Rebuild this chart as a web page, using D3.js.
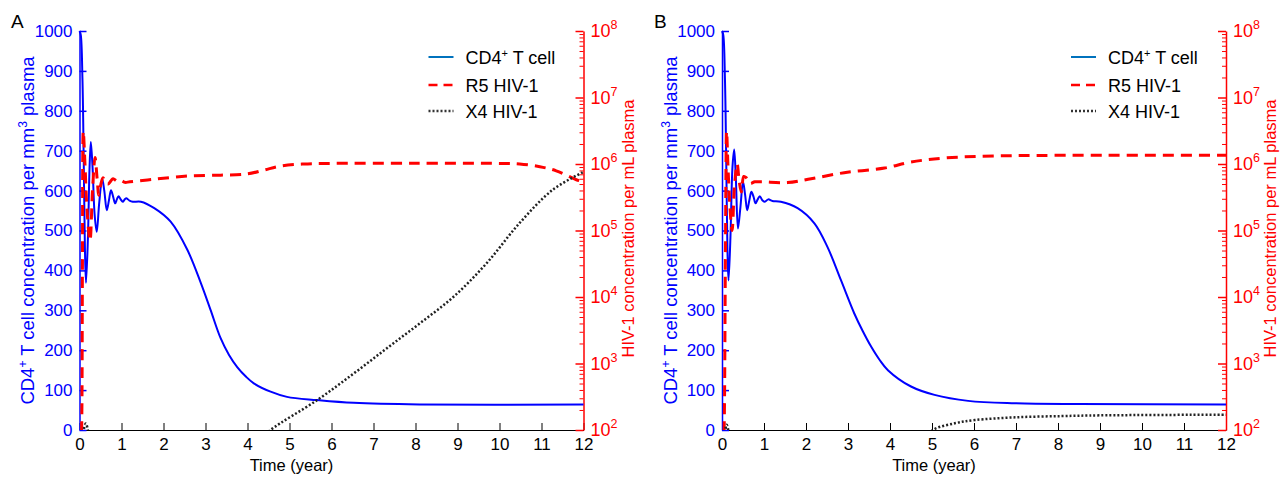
<!DOCTYPE html>
<html>
<head>
<meta charset="utf-8">
<script src="https://cdn.jsdelivr.net/npm/d3@7"></script>
<style>
  body { margin: 0; background: #fff; }
  svg text { font-family: "Liberation Sans", Arial, sans-serif; }
</style>
</head>
<body>
<svg id="chart" width="1284" height="480"></svg>
<script>
// Tick values / labels
const xTicks = [0, 1, 2, 3, 4, 5, 6, 7, 8, 9, 10, 11, 12];
const leftTicks = [0, 100, 200, 300, 400, 500, 600, 700, 800, 900, 1000];
const rightExponents = [2, 3, 4, 5, 6, 7, 8];
const legendLabels = ["CD4", "R5 HIV-1", "X4 HIV-1"];

// Panel A series: [time (year), value]
const cd4A = [[0,1000],[0.03,990],[0.07,880],[0.1,680],[0.13,450],[0.155,369],[0.2,480],[0.24,660],[0.27,722],
  [0.31,660],[0.36,540],[0.41,497],[0.47,570],[0.54,630],[0.59,600],[0.65,551],[0.7,575],[0.75,601],[0.8,585],
  [0.85,568],[0.89,578],[0.93,586],[0.98,578],[1.03,572],[1.07,577],[1.11,581],[1.19,575],[1.27,572],[1.46,572],
  [1.78,556],[2.17,522],[2.57,451],[2.89,368],[3.12,301],[3.36,230],[3.56,188],[3.76,157],[3.96,134],[4.15,117],
  [4.55,96],[4.94,83],[5.66,75],[6.53,68],[8.1,64],[12,64]];
const r5A = [[0.03,50],[0.05,100],[0.07,3e4],[0.09,3.1e6],[0.13,1.0e6],[0.18,2e5],[0.25,7e4],[0.31,4e5],[0.37,1.25e6],
  [0.42,6e5],[0.46,3.4e5],[0.51,5e5],[0.56,6.2e5],[0.62,5.2e5],[0.68,5.0e5],[0.75,5.6e5],[0.8,6.0e5],[0.9,5.5e5],
  [1.0,5.6e5],[1.08,5.3e5],[1.2,5.4e5],[1.78,5.9e5],[2.57,6.6e5],[3.36,6.8e5],[4.0,7.1e5],[4.39,8.1e5],[4.78,9.3e5],
  [5.34,1.0e6],[6,1.02e6],[8,1.03e6],[10,1.02e6],[10.48,1.0e6],[10.96,9.1e5],[11.35,7.9e5],[11.83,5.8e5],[12,5.4e5]];
const x4A = [[0.05,60],[0.1,100],[0.15,125],[0.2,100],[0.24,60], null,
  [4.3,70],[4.55,100],[5.66,282],[6.53,708],[7.32,1.7e3],[8.1,4e3],[8.9,1e4],[9.69,3.2e4],[10.48,1.3e5],
  [11.27,4.1e5],[12,7.6e5]];

// Panel B series
const cd4B = [[0,1000],[0.03,990],[0.07,880],[0.1,680],[0.13,450],[0.155,375],[0.2,480],[0.25,660],[0.29,703],
  [0.33,630],[0.38,505],[0.44,560],[0.5,622],[0.55,590],[0.6,551],[0.65,575],[0.7,597],[0.75,585],[0.8,568],
  [0.85,578],[0.9,586],[0.96,576],[1.02,572],[1.1,578],[1.2,574],[1.4,572],[1.8,556],[2.2,518],[2.51,459],
  [2.83,376],[3.15,292],[3.35,248],[3.55,209],[3.75,176],[3.95,150],[4.5,109],[5.06,88],[5.86,73],[6.98,67],
  [8.5,65],[12,64]];
const r5B = [[0.03,50],[0.05,100],[0.08,3e4],[0.11,3.1e6],[0.14,1.0e6],[0.19,2.2e5],[0.24,1e5],[0.3,5e5],[0.36,1.0e6],
  [0.41,5.5e5],[0.46,3.8e5],[0.52,6.5e5],[0.58,6.2e5],[0.67,5.1e5],[0.78,5.4e5],[0.9,5.4e5],[1.0,5.4e5],[1.56,5.25e5],
  [2.12,6.0e5],[2.91,7.4e5],[3.87,8.7e5],[4.5,1.07e6],[5.3,1.23e6],[6.5,1.32e6],[8,1.35e6],[12,1.35e6]];
const x4B = [[0.05,60],[0.08,100],[0.11,120],[0.15,100],[0.19,60], null,
  [4.8,70],[5.02,100],[5.54,126],[6.02,141],[6.98,155],[8.1,162],[9,166],[12,170]];

const svg = d3.select("#chart");
const plotTop = 31, plotBottom = 430, plotW = 504;
const blue = "#0000ff", red = "#ff0000";

function drawPanel(p) {
  const g = svg.append("g").attr("transform", `translate(${p.left},0)`);
  const x = d3.scaleLinear().domain([0, 12]).range([0, plotW]);
  const yL = d3.scaleLinear().domain([0, 1000]).range([plotBottom, plotTop]);
  const yR = d3.scaleLog().domain([1e2, 1e8]).range([plotBottom, plotTop]);

  const clipId = "clip" + p.name;
  g.append("clipPath").attr("id", clipId).append("rect")
    .attr("x", -3).attr("y", plotTop - 6).attr("width", plotW + 6).attr("height", plotBottom - plotTop + 6);

  // x axis (ticks pointing inward)
  const xAx = g.append("g").attr("transform", `translate(0,${plotBottom})`)
    .call(d3.axisBottom(x).tickValues(xTicks).tickSizeInner(-7).tickSizeOuter(0).tickPadding(8));
  xAx.attr("font-size", 17).attr("font-family", null);
  xAx.selectAll("line,path").attr("stroke", "#000");
  xAx.selectAll("text").attr("fill", "#000");

  g.append("text").attr("x", 212).attr("y", 471).attr("text-anchor", "middle")
    .attr("font-size", 16.5).text("Time (year)");

  // left axis
  const lAx = g.append("g")
    .call(d3.axisLeft(yL).tickValues(leftTicks).tickFormat(d3.format("d"))
      .tickSizeInner(-7).tickSizeOuter(0).tickPadding(7));
  lAx.attr("font-size", 17).attr("font-family", null);
  lAx.selectAll("line,path").attr("stroke", blue).attr("stroke-width", 1.5);
  lAx.selectAll("text").attr("fill", blue);

  const lt = g.append("text").attr("transform", `translate(-45.5,${(plotTop + plotBottom) / 2}) rotate(-90)`)
    .attr("text-anchor", "middle").attr("fill", blue).attr("font-size", 18.5);
  lt.append("tspan").text("CD4");
  lt.append("tspan").attr("dy", -7).attr("font-size", 12).text("+");
  lt.append("tspan").attr("dy", 7).text(" T cell concentration per mm");
  lt.append("tspan").attr("dy", -7).attr("font-size", 12).text("3");
  lt.append("tspan").attr("dy", 7).text(" plasma");

  // right log axis: minor ticks then majors
  const minors = [];
  for (let e = 2; e < 8; e++) for (let k = 2; k <= 9; k++) minors.push(k * Math.pow(10, e));
  const mAx = g.append("g").attr("transform", `translate(${plotW},0)`)
    .call(d3.axisRight(yR).tickValues(minors).tickSizeInner(-4).tickSizeOuter(0).tickFormat(""));
  mAx.select(".domain").remove();
  mAx.selectAll("line").attr("stroke", red);

  const rAx = g.append("g").attr("transform", `translate(${plotW},0)`)
    .call(d3.axisRight(yR).tickValues(rightExponents.map(e => Math.pow(10, e)))
      .tickSizeInner(-8).tickSizeOuter(0).tickPadding(7).tickFormat(""));
  rAx.attr("font-size", 18).attr("font-family", null);
  rAx.selectAll("line,path").attr("stroke", red).attr("stroke-width", 1.5);
  rAx.selectAll(".tick text").attr("fill", red).each(function(d) {
    const t = d3.select(this);
    t.append("tspan").text("10");
    t.append("tspan").attr("dy", -8).attr("font-size", 12.5).text(Math.round(Math.log10(d)));
  });

  g.append("text").attr("transform", `translate(${plotW + 50},${(plotTop + plotBottom) / 2 - 2}) rotate(-90)`)
    .attr("text-anchor", "middle").attr("fill", red).attr("font-size", 16.5)
    .text("HIV-1 concentration per mL plasma");

  // series
  const plot = g.append("g").attr("clip-path", `url(#${clipId})`);
  const curve = d3.curveCatmullRom.alpha(0.5);
  const lineL = d3.line().defined(d => d).x(d => x(d[0])).y(d => yL(d[1])).curve(curve);
  const lineR = d3.line().defined(d => d).x(d => x(d[0])).y(d => yR(d[1])).curve(curve);

  plot.append("path").datum(p.cd4).attr("d", lineL)
    .attr("fill", "none").attr("stroke", blue).attr("stroke-width", 2);
  plot.append("path").datum(p.r5).attr("d", lineR)
    .attr("fill", "none").attr("stroke", red).attr("stroke-width", 3).attr("stroke-dasharray", "11,7");
  plot.append("path").datum(p.x4).attr("d", lineR)
    .attr("fill", "none").attr("stroke", "#222").attr("stroke-width", 2.5).attr("stroke-dasharray", "2,2");

  // panel letter
  svg.append("text").attr("x", p.letterX).attr("y", 28).attr("font-size", 19).text(p.name);

  // legend
  const lg = g.append("g").attr("transform", "translate(349,0)");
  const rows = [
    { y: 57, stroke: "#0072bd", dash: null, w: 2 },
    { y: 85, stroke: red, dash: "9,6", w: 2.5 },
    { y: 111, stroke: "#333", dash: "2,2", w: 2.5 }
  ];
  rows.forEach((r, i) => {
    lg.append("line").attr("x1", 0).attr("x2", 25).attr("y1", r.y).attr("y2", r.y)
      .attr("stroke", r.stroke).attr("stroke-width", r.w).attr("stroke-dasharray", r.dash);
    const t = lg.append("text").attr("x", 37).attr("y", r.y + 6.5).attr("font-size", 18).attr("fill", "#000");
    if (i === 0) {
      t.append("tspan").text(legendLabels[0]);
      t.append("tspan").attr("dy", -7).attr("font-size", 11).text("+");
      t.append("tspan").attr("dy", 7).text(" T cell");
    } else {
      t.text(legendLabels[i]);
    }
  });
}

drawPanel({ name: "A", left: 79.5, letterX: 11, cd4: cd4A, r5: r5A, x4: x4A });
drawPanel({ name: "B", left: 722, letterX: 654, cd4: cd4B, r5: r5B, x4: x4B });
</script>
</body>
</html>
